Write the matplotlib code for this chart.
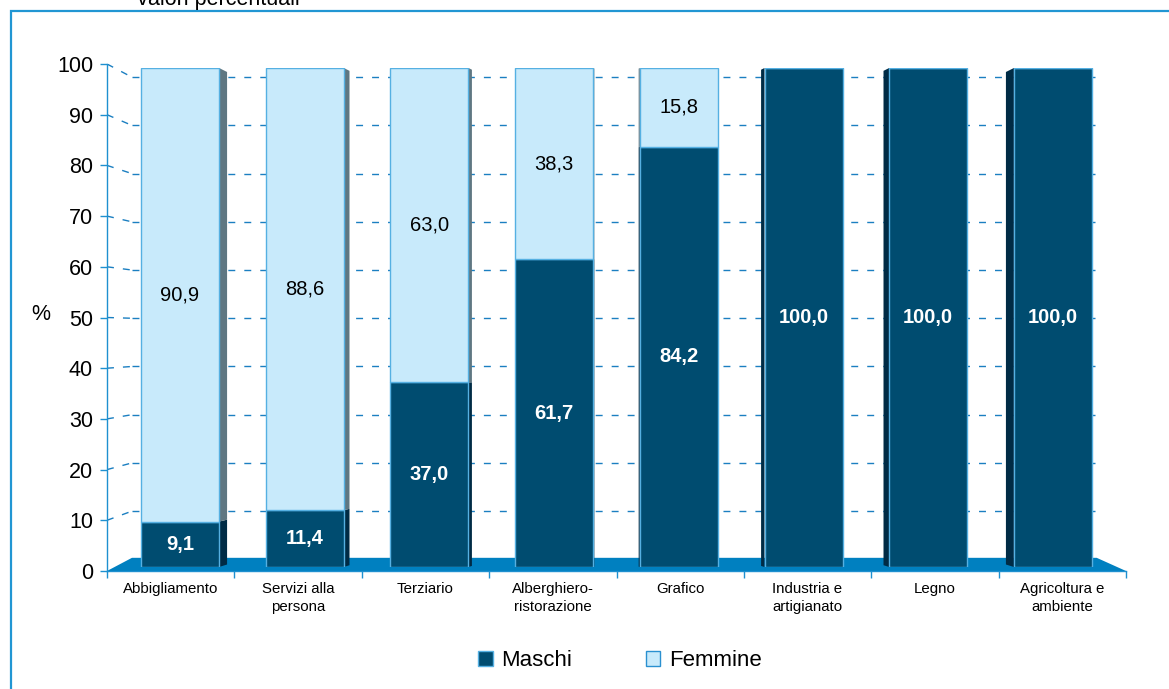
import matplotlib
matplotlib.use("Agg")
import matplotlib.pyplot as plt
from matplotlib.patches import Patch, Rectangle, Polygon

plt.rcParams['font.family'] = ['Liberation Sans', 'DejaVu Sans']

#Chart data
categories = ["Abbigliamento", "Servizi alla\npersona", "Terziario", "Alberghiero-\nristorazione",
              "Grafico", "Industria e\nartigianato", "Legno", "Agricoltura e\nambiente"]
maschi = [9.1, 11.4, 37.0, 61.7, 84.2, 100.0, 100.0, 100.0]
femmine = [90.9, 88.6, 63.0, 38.3, 15.8, 0.0, 0.0, 0.0]
yticks = list(range(0, 101, 10))
series_names = ["Maschi", "Femmine"]

DARK = "#004C70"
LIGHT = "#C8EAFB"
DARK_SIDE = "#002B45"
LIGHT_SIDE = "#5F7782"
EDGE = "#55B0E2"
AXIS = "#1E90D0"
FLOOR = "#0080C0"

W, H = 1169, 689
fig = plt.figure(figsize=(W / 100, H / 100), dpi=100)

def px_box(x0, y_top, x1, y_bot):
    return [x0 / W, 1 - y_bot / H, (x1 - x0) / W, (y_bot - y_top) / H]

#Outer frame of the chart area
fig.patches.append(Rectangle((11 / W, -0.05), 1.2, 1 - 11 / H + 0.05, transform=fig.transFigure,
                             fill=False, edgecolor="#2196D3", lw=1.6))
fig.text(219 / W, 1 - 5 / H, "- valori percentuali -", ha="center", va="baseline", fontsize=15.5)

#Axis frame with floor and back wall gridlines
ax = fig.add_axes(px_box(107, 64, 1126, 571))
ax.set_xlim(0, 8)
ax.set_ylim(0, 100)
ax.patch.set_visible(False)
for s in ["top", "right"]:
    ax.spines[s].set_visible(False)
for s in ["left", "bottom"]:
    ax.spines[s].set_color(AXIS)
    ax.spines[s].set_linewidth(1)

back0, back_scale = 2.3, 0.951
wall_x, wall_r = 0.196, 7.755
for v in yticks[1:]:
    yb = back0 + back_scale * v
    ax.plot([0, wall_x], [v, yb], color="#1B7FC1", lw=1, dashes=(5, 6.5), zorder=1)
    ax.plot([wall_x, wall_r], [yb, yb], color="#1B7FC1", lw=1, dashes=(5, 6.5), zorder=1)
ax.add_patch(Polygon([(0, 0), (wall_x, back0 + 0.3), (wall_r + 0.015, back0 + 0.3), (8, 0)],
                     closed=True, facecolor=FLOOR, edgecolor="none", zorder=2, clip_on=False))

ax.set_yticks(yticks)
ax.tick_params(axis="y", direction="out", length=5, width=1, color=AXIS, labelsize=15.5, pad=5)
ax.set_xticks(range(0, 9))
ax.set_xticklabels([])
ax.tick_params(axis="x", which="major", direction="out", length=5, width=1, color=AXIS)
ax.set_xticks([i + 0.5 for i in range(len(categories))], minor=True)
ax.set_xticklabels(categories, minor=True, fontsize=10.8)
ax.tick_params(axis="x", which="minor", length=0, pad=8)
for t in ax.get_xminorticklabels():
    t.set_linespacing(1.35)
fig.text(41 / W, 1 - 315 / H, "%", ha="center", va="center", fontsize=15.5)

#Bars (front faces) in their own axes, slightly set back from the axis
bx = fig.add_axes(px_box(107, 68, 1126, 567))
bx.set_xlim(0, 8)
bx.set_ylim(0, 100)
bx.axis("off")

persp = 0.979
bw = 0.613
side_k = 0.0183
centers = [4 + persp * (i + 0.5 - 4) for i in range(len(categories))]

def side_face(xe, sgn, s, b, t, color):
    f = s / (side_k * 3.43)
    dy = lambda v: f * (0.5 - 0.013 * v)
    bx.add_patch(Polygon([(xe, b), (xe, t), (xe + sgn * s, t + dy(t)), (xe + sgn * s, b + dy(b))],
                         closed=True, facecolor=color, edgecolor="none", zorder=2))

bx.bar(centers, maschi, width=bw, color=DARK, edgecolor=EDGE, lw=1, zorder=3)
bx.bar(centers, femmine, width=bw, bottom=maschi, color=LIGHT, edgecolor=EDGE, lw=1, zorder=3)

for c, m, fv in zip(centers, maschi, femmine):
    d = c - 4
    s = side_k * abs(d)
    sgn = 1 if d < 0 else -1
    xe = c + sgn * bw / 2
    if s > 0.002:
        side_face(xe, sgn, s, 0, m, DARK_SIDE)
        if fv > 0:
            side_face(xe, sgn, s, m, m + fv, LIGHT_SIDE)
    bx.text(c, m / 2, f"{m:.1f}".replace(".", ","), ha="center", va="center",
            color="white", fontsize=14.5, fontweight="bold", zorder=4)
    if fv > 0:
        bx.text(c, m + fv / 2, f"{fv:.1f}".replace(".", ","), ha="center", va="center",
                color="black", fontsize=14.5, zorder=4)

#Legend
handles = [Patch(facecolor=DARK, edgecolor=EDGE, label=series_names[0]),
           Patch(facecolor=LIGHT, edgecolor="#2A90D0", label=series_names[1])]
fig.legend(handles=handles, loc="center", bbox_to_anchor=(620 / W, 1 - 661 / H), ncol=2,
           frameon=False, fontsize=16, handlelength=0.65, handleheight=0.65,
           handletextpad=0.4, columnspacing=3.3)

fig.savefig("out.png", dpi=100)
